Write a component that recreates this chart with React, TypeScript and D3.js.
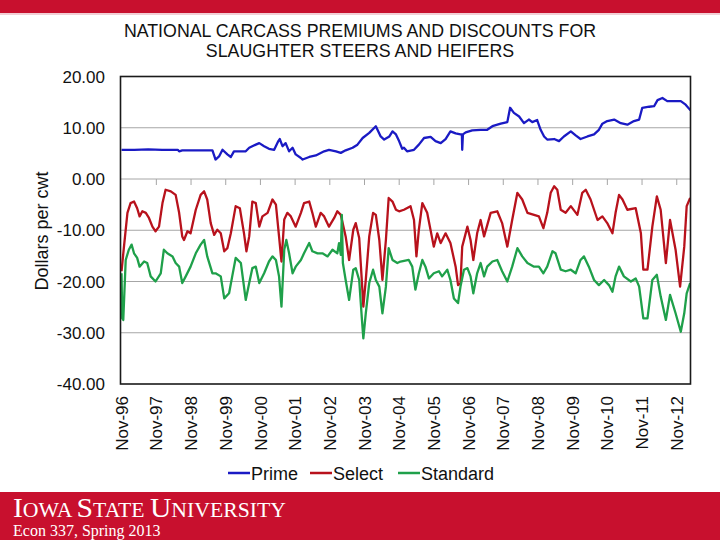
import React from "react";
import * as d3 from "d3";

// ---- data (decimal year, $/cwt) ----
const primeData: [number, number][] = [
  [1996.83, 5.7], [1997.2, 5.7], [1997.6, 5.8], [1998.0, 5.7], [1998.45, 5.7], [1998.49, 5.4], [1998.58, 5.6],
  [1998.9, 5.6], [1999.3, 5.6], [1999.45, 5.6], [1999.54, 3.8], [1999.64, 4.4], [1999.74, 5.7], [1999.88, 4.8],
  [1999.98, 4.3], [2000.07, 5.4], [2000.41, 5.4], [2000.51, 6.1], [2000.7, 6.7], [2000.8, 7.0], [2000.94, 6.4],
  [2001.08, 5.9], [2001.23, 5.7], [2001.35, 7.4], [2001.39, 7.8], [2001.47, 6.4], [2001.56, 7.0], [2001.66, 5.4],
  [2001.76, 6.1], [2001.85, 4.8], [2002.0, 4.1], [2002.05, 3.8], [2002.24, 4.3], [2002.43, 4.6], [2002.67, 5.4],
  [2002.81, 5.7], [2003.01, 5.4], [2003.15, 5.1], [2003.29, 5.6], [2003.49, 6.1], [2003.63, 6.7], [2003.78, 8.0],
  [2003.97, 9.0], [2004.16, 10.3], [2004.3, 8.3], [2004.4, 7.7], [2004.55, 8.3], [2004.64, 9.3], [2004.74, 8.7],
  [2004.83, 7.4], [2004.92, 5.9], [2004.97, 6.1], [2005.06, 5.4], [2005.26, 5.7], [2005.4, 6.7], [2005.55, 8.0],
  [2005.74, 8.2], [2005.88, 7.4], [2006.03, 7.0], [2006.17, 7.8], [2006.31, 9.3], [2006.46, 8.9], [2006.6, 8.7],
  [2006.64, 8.7], [2006.65, 5.7], [2006.67, 8.7], [2006.75, 9.1], [2006.94, 9.5], [2007.18, 9.6], [2007.37, 9.6],
  [2007.52, 10.3], [2007.76, 10.8], [2007.95, 11.1], [2008.03, 13.9], [2008.14, 12.9], [2008.29, 12.2],
  [2008.43, 10.9], [2008.57, 11.6], [2008.67, 11.1], [2008.81, 11.5], [2008.91, 9.6], [2009.01, 8.3],
  [2009.1, 7.7], [2009.3, 7.8], [2009.44, 7.4], [2009.58, 8.3], [2009.78, 9.3], [2009.92, 8.5], [2010.06, 7.8],
  [2010.26, 8.3], [2010.45, 8.7], [2010.59, 9.6], [2010.69, 10.8], [2010.83, 11.3], [2011.03, 11.6],
  [2011.22, 10.9], [2011.41, 10.6], [2011.6, 11.3], [2011.75, 11.6], [2011.84, 13.9], [2012.04, 14.1],
  [2012.18, 14.2], [2012.28, 15.4], [2012.42, 15.8], [2012.56, 15.2], [2012.76, 15.2], [2012.95, 15.2],
  [2013.09, 14.5], [2013.23, 13.4],
];

const selectData: [number, number][] = [
  [1996.83, -18.0], [1996.9, -13.2], [1997.0, -6.6], [1997.09, -4.7], [1997.19, -4.4], [1997.28, -5.7],
  [1997.35, -7.3], [1997.43, -6.3], [1997.53, -6.6], [1997.62, -7.6], [1997.72, -9.3], [1997.81, -10.2],
  [1997.91, -9.3], [1998.01, -4.7], [1998.1, -2.1], [1998.25, -2.4], [1998.39, -3.1], [1998.49, -6.6],
  [1998.58, -11.2], [1998.63, -11.9], [1998.73, -10.2], [1998.82, -10.6], [1998.97, -6.0], [1999.11, -3.1],
  [1999.21, -2.4], [1999.3, -4.0], [1999.4, -8.6], [1999.5, -10.9], [1999.59, -9.9], [1999.69, -10.6],
  [1999.79, -14.1], [1999.88, -13.5], [1999.98, -10.6], [2000.12, -5.3], [2000.24, -5.7], [2000.36, -10.6],
  [2000.43, -14.1], [2000.51, -11.2], [2000.6, -4.4], [2000.7, -4.7], [2000.8, -9.3], [2000.89, -7.3],
  [2001.04, -6.6], [2001.18, -4.0], [2001.28, -5.0], [2001.37, -11.2], [2001.44, -16.1], [2001.52, -7.9],
  [2001.61, -6.6], [2001.71, -7.3], [2001.85, -9.3], [2002.0, -6.6], [2002.09, -4.7], [2002.24, -4.4],
  [2002.33, -6.6], [2002.43, -9.3], [2002.57, -6.6], [2002.67, -7.3], [2002.81, -9.3], [2002.96, -7.6],
  [2003.05, -6.3], [2003.15, -7.0], [2003.29, -11.2], [2003.39, -15.8], [2003.51, -9.9], [2003.58, -8.6],
  [2003.68, -11.5], [2003.76, -20.3], [2003.8, -24.9], [2003.87, -19.7], [2003.97, -11.2], [2004.08, -6.6],
  [2004.16, -7.0], [2004.26, -11.9], [2004.35, -19.7], [2004.45, -11.9], [2004.53, -3.7], [2004.64, -4.4],
  [2004.74, -6.0], [2004.83, -6.3], [2004.97, -6.0], [2005.16, -5.3], [2005.26, -8.0], [2005.33, -15.1],
  [2005.4, -9.9], [2005.5, -4.7], [2005.64, -6.6], [2005.83, -13.2], [2005.93, -10.6], [2006.03, -12.5],
  [2006.17, -10.6], [2006.31, -12.5], [2006.46, -17.1], [2006.53, -20.7], [2006.6, -20.3], [2006.65, -13.2],
  [2006.8, -9.3], [2006.89, -11.9], [2006.97, -15.8], [2007.08, -10.6], [2007.18, -8.0], [2007.28, -11.2],
  [2007.47, -6.6], [2007.66, -6.3], [2007.8, -8.6], [2007.95, -13.2], [2008.09, -8.0], [2008.24, -2.7],
  [2008.38, -4.0], [2008.53, -6.6], [2008.72, -7.0], [2008.86, -7.3], [2008.99, -9.6], [2009.1, -6.6],
  [2009.2, -2.7], [2009.3, -1.4], [2009.39, -2.1], [2009.49, -6.0], [2009.63, -6.6], [2009.78, -5.3],
  [2009.97, -7.0], [2010.11, -2.7], [2010.21, -2.1], [2010.35, -4.0], [2010.55, -8.0], [2010.69, -7.3],
  [2010.83, -8.6], [2010.98, -10.6], [2011.07, -6.6], [2011.17, -3.1], [2011.27, -4.0], [2011.41, -6.0],
  [2011.65, -5.7], [2011.8, -10.6], [2011.87, -17.7], [2011.99, -17.7], [2012.13, -9.3], [2012.26, -3.4],
  [2012.37, -6.0], [2012.52, -16.4], [2012.64, -8.0], [2012.8, -13.8], [2012.93, -21.0], [2013.05, -13.2],
  [2013.12, -5.3], [2013.22, -3.7],
];

const standardData: [number, number][] = [
  [1996.83, -18.4], [1996.85, -27.2], [1996.88, -27.5], [1996.95, -15.8], [1997.04, -13.8], [1997.12, -12.8],
  [1997.19, -14.5], [1997.28, -15.4], [1997.35, -17.1], [1997.48, -16.1], [1997.57, -16.4], [1997.67, -19.0],
  [1997.81, -20.0], [1997.96, -18.4], [1998.05, -13.8], [1998.15, -14.5], [1998.3, -15.1], [1998.39, -16.4],
  [1998.49, -17.1], [1998.58, -20.3], [1998.68, -19.0], [1998.82, -17.1], [1998.97, -14.5], [1999.11, -12.8],
  [1999.21, -11.9], [1999.3, -15.1], [1999.45, -18.4], [1999.54, -18.4], [1999.69, -19.0], [1999.79, -23.3],
  [1999.93, -22.3], [2000.02, -19.0], [2000.12, -15.4], [2000.27, -16.4], [2000.41, -23.6], [2000.51, -20.3],
  [2000.6, -17.4], [2000.7, -17.1], [2000.8, -20.3], [2000.94, -18.4], [2001.08, -16.1], [2001.18, -15.1],
  [2001.28, -15.8], [2001.37, -19.0], [2001.44, -24.9], [2001.52, -13.8], [2001.58, -11.9], [2001.66, -14.5],
  [2001.76, -18.4], [2001.85, -17.1], [2002.0, -15.8], [2002.09, -14.5], [2002.24, -12.5], [2002.33, -14.1],
  [2002.48, -14.5], [2002.62, -14.5], [2002.77, -15.1], [2002.91, -13.8], [2003.05, -14.5], [2003.1, -12.5],
  [2003.15, -14.8], [2003.18, -7.0], [2003.21, -16.4], [2003.29, -19.7], [2003.39, -23.6], [2003.51, -17.7],
  [2003.58, -17.4], [2003.68, -19.7], [2003.76, -27.5], [2003.8, -31.1], [2003.87, -26.2], [2003.97, -20.3],
  [2004.08, -17.7], [2004.16, -19.7], [2004.26, -21.0], [2004.35, -26.2], [2004.45, -21.0], [2004.53, -13.5],
  [2004.64, -15.8], [2004.78, -16.4], [2004.87, -16.1], [2005.11, -15.8], [2005.21, -17.1], [2005.3, -21.6],
  [2005.4, -18.4], [2005.5, -15.8], [2005.59, -17.1], [2005.69, -19.4], [2005.83, -18.4], [2005.98, -18.0],
  [2006.07, -19.0], [2006.22, -17.7], [2006.31, -19.7], [2006.41, -23.3], [2006.53, -24.2], [2006.6, -21.0],
  [2006.7, -17.7], [2006.8, -17.4], [2006.89, -19.0], [2006.97, -22.3], [2007.08, -18.4], [2007.18, -16.4],
  [2007.28, -19.0], [2007.37, -17.1], [2007.52, -16.1], [2007.66, -15.8], [2007.8, -18.0], [2007.95, -20.0],
  [2008.09, -17.1], [2008.24, -13.5], [2008.38, -15.1], [2008.53, -16.4], [2008.72, -17.1], [2008.86, -17.1],
  [2008.99, -18.4], [2009.1, -17.1], [2009.25, -14.1], [2009.34, -14.5], [2009.49, -17.7], [2009.63, -18.0],
  [2009.78, -17.7], [2009.92, -18.4], [2010.06, -15.8], [2010.16, -15.1], [2010.3, -17.1], [2010.45, -19.7],
  [2010.59, -20.7], [2010.74, -19.7], [2010.88, -20.7], [2010.98, -22.0], [2011.07, -19.0], [2011.17, -17.1],
  [2011.31, -19.0], [2011.51, -20.0], [2011.65, -19.4], [2011.75, -21.0], [2011.87, -27.2], [2011.99, -27.2],
  [2012.13, -19.7], [2012.26, -18.7], [2012.37, -22.9], [2012.52, -27.5], [2012.64, -22.6], [2012.8, -26.2],
  [2012.95, -29.8], [2013.05, -26.2], [2013.12, -22.3], [2013.22, -20.3],
];

const seriesNames = ["Prime", "Select", "Standard"];
const seriesColors = ["#1a1ac4", "#b8121c", "#1fa04a"];
const yTicks = [-40, -30, -20, -10, 0, 10, 20];
const xTickYears = d3.range(0, 17).map((k) => 1996 + 10 / 12 + k);
const xTickLabels = [
  "Nov-96", "Nov-97", "Nov-98", "Nov-99", "Nov-00", "Nov-01", "Nov-02", "Nov-03", "Nov-04",
  "Nov-05", "Nov-06", "Nov-07", "Nov-08", "Nov-09", "Nov-10", "Nov-11", "Nov-12",
];
const titleLines = ["NATIONAL CARCASS PREMIUMS AND DISCOUNTS FOR", "SLAUGHTER STEERS AND HEIFERS"];
const yTitle = "Dollars per cwt";

const RED = "#c8102e";
const SANS = "'Liberation Sans', Arial, sans-serif";
const SERIF = "'Liberation Serif', 'Times New Roman', serif";

const fmt = (v: number) => d3.format(".2f")(v).replace("\u2212", "-");

export default function App() {
  const left = 120.5, right = 690.5, top = 76.5, bottom = 384;
  const x = d3.scaleLinear().domain([1996.8, 2013.23]).range([left, right]);
  const y = d3.scaleLinear().domain([-40, 20]).range([bottom, top]);
  const line = d3
    .line<[number, number]>()
    .x((d) => x(d[0]))
    .y((d) => y(d[1]));
  const allSeries = [primeData, selectData, standardData];
  const legendX = [228, 310, 398];

  return (
    <svg
      width={720}
      height={540}
      style={{ position: "absolute", left: 0, top: 0, background: "#fff" }}
      xmlns="http://www.w3.org/2000/svg"
    >
      <rect x={0} y={0} width={720} height={540} fill="#fff" />
      {/* slide bands */}
      <rect x={0} y={0} width={720} height={13} fill={RED} />
      <rect x={0} y={13} width={720} height={2} fill="#f2cfd5" />
      <rect x={0} y={492} width={720} height={48} fill={RED} />
      <text x={13} y={516.5} fill="#fff" fontFamily={SERIF} textLength={273} lengthAdjust="spacingAndGlyphs">
        <tspan fontSize={28}>I</tspan>
        <tspan fontSize={20.5}>OWA </tspan>
        <tspan fontSize={28}>S</tspan>
        <tspan fontSize={20.5}>TATE </tspan>
        <tspan fontSize={28}>U</tspan>
        <tspan fontSize={20.5}>NIVERSITY</tspan>
      </text>
      <text x={13} y={535.5} fill="#fff" fontFamily={SERIF} fontSize={16}>
        Econ 337, Spring 2013
      </text>

      {/* title */}
      {titleLines.map((t, i) => (
        <text key={t} x={360} y={37 + i * 20} textAnchor="middle" fontFamily={SANS} fontSize={17.8} fill="#111">
          {t}
        </text>
      ))}

      {/* gridlines */}
      {yTicks
        .filter((v) => v > -40 && v < 20)
        .map((v) => (
          <line key={v} x1={left} x2={right} y1={y(v)} y2={y(v)} stroke="#a6a6a6" strokeWidth={1} />
        ))}
      {/* x tick marks on zero line */}
      {xTickYears.slice(1).map((t) => (
        <line key={t} x1={x(t)} x2={x(t)} y1={y(0)} y2={y(0) + 6} stroke="#a6a6a6" strokeWidth={1} />
      ))}

      <defs>
        <clipPath id="plotclip">
          <rect x={left} y={top} width={right - left} height={bottom - top} />
        </clipPath>
      </defs>
      <g clipPath="url(#plotclip)">
        {allSeries.map((s, i) => (
          <path
            key={seriesNames[i]}
            d={line(s) || ""}
            fill="none"
            stroke={seriesColors[i]}
            strokeWidth={2.3}
            strokeLinejoin="round"
          />
        ))}
      </g>

      {/* plot border */}
      <rect x={left} y={top} width={right - left} height={bottom - top} fill="none" stroke="#1a1a1a" strokeWidth={1.6} />

      {/* y tick labels */}
      {yTicks.map((v) => (
        <text key={v} x={105} y={y(v)} dy="0.36em" textAnchor="end" fontFamily={SANS} fontSize={17} fill="#111">
          {fmt(v)}
        </text>
      ))}
      {/* y title */}
      <text
        transform={`translate(48,231) rotate(-90)`}
        textAnchor="middle"
        fontFamily={SANS}
        fontSize={18}
        fill="#111"
      >
        {yTitle}
      </text>

      {/* x tick labels */}
      {xTickYears.map((t, i) => (
        <text
          key={t}
          transform={`translate(${x(t)},396) rotate(-90)`}
          dy="0.36em"
          textAnchor="end"
          fontFamily={SANS}
          fontSize={17}
          fill="#111"
        >
          {xTickLabels[i]}
        </text>
      ))}

      {/* legend */}
      {seriesNames.map((n, i) => (
        <g key={n}>
          <line x1={legendX[i]} x2={legendX[i] + 22} y1={473} y2={473} stroke={seriesColors[i]} strokeWidth={2.5} />
          <text x={legendX[i] + 23} y={479.5} fontFamily={SANS} fontSize={18} fill="#111">
            {n}
          </text>
        </g>
      ))}
    </svg>
  );
}
